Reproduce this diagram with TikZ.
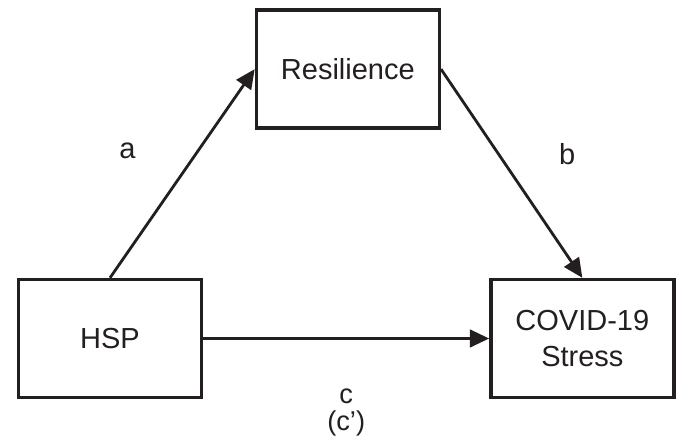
\documentclass[tikz,border=0pt]{standalone}
\usepackage{fontspec}
\setmainfont{Liberation Sans}
\usetikzlibrary{arrows.meta, positioning}
\definecolor{ink}{HTML}{231F20}
\tikzset{
  varbox/.style={rectangle, draw=ink, line width=1.9pt, minimum width=3.66cm, minimum height=2.36cm, align=center, text=ink, font=\fontsize{16.5}{20}\selectfont},
  link/.style={-{Triangle[length=11pt, width=10pt]}, line width=1.6pt, draw=ink},
  lbl/.style={text=ink, font=\fontsize{16.5}{20}\selectfont},
  smalllbl/.style={text=ink, align=center, font=\fontsize{15.5}{15.5}\selectfont},
}
\begin{document}
\begin{tikzpicture}[node distance=2.96cm and 1.03cm]
\useasboundingbox (0,0) rectangle (13.52,-8.76);
\node[varbox] (hsp) at (2.2,-6.77) {HSP};
\node[varbox, above right=of hsp] (res) {Resilience};
\node[varbox, right=5.72cm of hsp] (stress) {COVID-19\\Stress};
\draw[link] (hsp.north) -- node[lbl, xshift=-1.1cm, yshift=0.45cm]{a} (res.west);
\draw[link] (res.east) -- node[lbl, xshift=1.11cm, yshift=0.38cm]{b} (stress.north);
\draw[link] (hsp.east) -- node[smalllbl, yshift=-1.48cm]{c\\(c')} (stress.west);
\end{tikzpicture}
\end{document}
